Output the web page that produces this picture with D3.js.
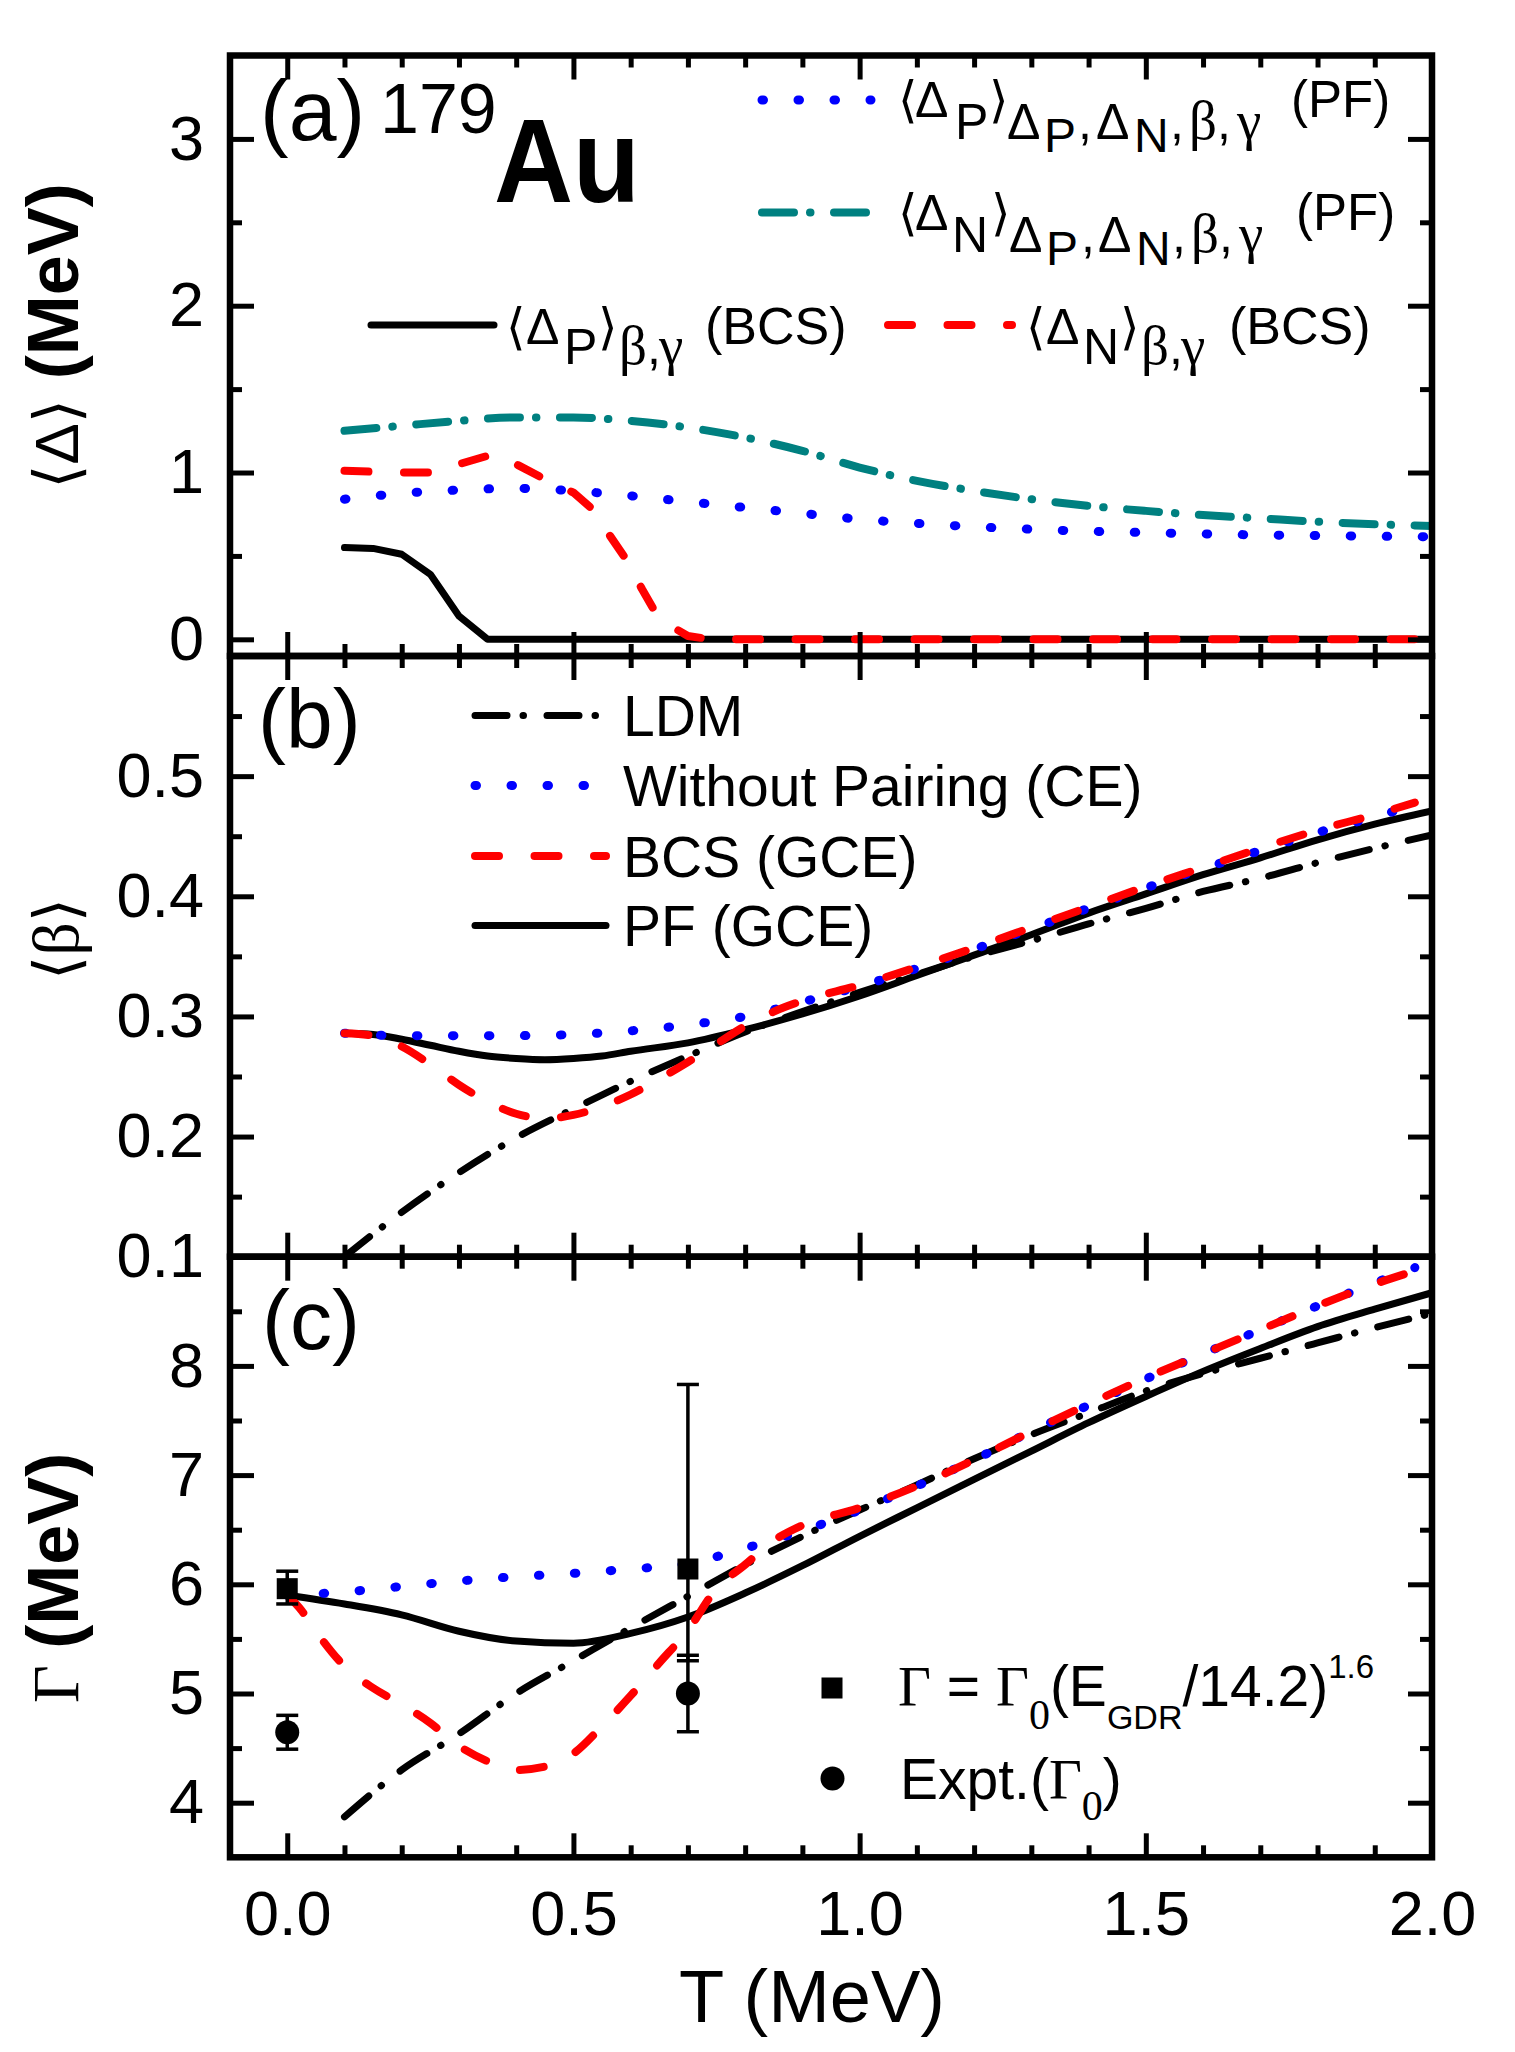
<!DOCTYPE html>
<html><head><meta charset="utf-8">
<script src="https://cdn.jsdelivr.net/npm/d3@7"></script>
<style>
body{margin:0;background:#fff}
svg{display:block}
text{font-family:"Liberation Sans",Arial,sans-serif;fill:#000}
</style></head>
<body><svg id="chart" width="1515" height="2052"></svg>
<script>
// ---------------- DATA ----------------
// Panel (a): <Delta> (MeV) vs T (MeV)
const gapPropPF = [[0.1,0.84],[0.2,0.875],[0.3,0.895],[0.4,0.905],[0.5,0.89],[0.6,0.86],[0.7,0.825],[0.8,0.79],[0.9,0.755],[1.0,0.72],[1.1,0.695],[1.2,0.675],[1.3,0.66],[1.4,0.648],[1.5,0.64],[1.6,0.632],[1.7,0.626],[1.8,0.622],[1.9,0.618],[2.0,0.615]];
const gapNeutPF = [[0.1,1.25],[0.2,1.28],[0.3,1.31],[0.4,1.33],[0.5,1.33],[0.6,1.31],[0.7,1.27],[0.8,1.21],[0.9,1.13],[1.0,1.03],[1.1,0.95],[1.2,0.89],[1.3,0.84],[1.4,0.8],[1.5,0.77],[1.6,0.745],[1.7,0.725],[1.8,0.705],[1.9,0.69],[2.0,0.68]];
const gapPropBCS = [[0.1,0.55],[0.15,0.545],[0.2,0.51],[0.25,0.39],[0.3,0.14],[0.35,0.0],[0.4,0.0],[0.6,0.0],[1.0,0.0],[1.5,0.0],[2.0,0.0]];
const gapNeutBCS = [[0.1,1.01],[0.2,1.0],[0.25,1.0],[0.3,1.05],[0.36,1.11],[0.4,1.05],[0.45,0.96],[0.5,0.88],[0.53,0.79],[0.56,0.64],[0.59,0.49],[0.62,0.3],[0.65,0.12],[0.7,0.02],[0.74,0.0],[1.0,0.0],[1.5,0.0],[2.0,0.0]];

// Panel (b): <beta> vs T
const betaLDM = [[0.1,0.1],[0.2,0.137],[0.3,0.17],[0.4,0.199],[0.5,0.223],[0.6,0.246],[0.7,0.267],[0.8,0.287],[0.9,0.304],[1.0,0.32],[1.1,0.335],[1.2,0.35],[1.3,0.363],[1.4,0.377],[1.5,0.39],[1.6,0.404],[1.7,0.415],[1.8,0.428],[1.9,0.44],[2.0,0.451]];
const betaNoPair = [[0.1,0.286],[0.2,0.284],[0.3,0.284],[0.4,0.284],[0.5,0.285],[0.6,0.288],[0.7,0.293],[0.8,0.3],[0.9,0.312],[1.0,0.325],[1.1,0.34],[1.2,0.356],[1.3,0.373],[1.4,0.39],[1.5,0.407],[1.6,0.423],[1.7,0.438],[1.8,0.453],[1.9,0.466],[1.97,0.476]];
const betaBCS = [[0.1,0.286],[0.15,0.284],[0.2,0.275],[0.25,0.26],[0.3,0.243],[0.35,0.229],[0.4,0.219],[0.45,0.215],[0.5,0.218],[0.55,0.225],[0.6,0.235],[0.65,0.248],[0.7,0.262],[0.75,0.277],[0.8,0.292],[0.85,0.304],[0.9,0.313],[1.0,0.326],[1.1,0.341],[1.2,0.357],[1.3,0.374],[1.4,0.391],[1.5,0.408],[1.6,0.424],[1.7,0.44],[1.8,0.455],[1.9,0.468],[1.97,0.478]];
const betaPF = [[0.1,0.286],[0.15,0.285],[0.2,0.281],[0.25,0.276],[0.3,0.271],[0.35,0.267],[0.4,0.265],[0.45,0.264],[0.5,0.265],[0.55,0.267],[0.6,0.271],[0.7,0.278],[0.8,0.289],[0.9,0.302],[1.0,0.317],[1.1,0.334],[1.2,0.351],[1.3,0.368],[1.4,0.386],[1.5,0.402],[1.6,0.418],[1.7,0.432],[1.8,0.447],[1.9,0.46],[2.0,0.471]];

// Panel (c): Gamma (MeV) vs T
const widthLDM = [[0.1,3.87],[0.2,4.3],[0.3,4.63],[0.4,5.0],[0.5,5.3],[0.6,5.6],[0.7,5.89],[0.8,6.18],[0.9,6.44],[1.0,6.68],[1.1,6.91],[1.2,7.15],[1.3,7.37],[1.4,7.57],[1.5,7.77],[1.6,7.93],[1.7,8.07],[1.8,8.21],[1.9,8.35],[2.0,8.48]];
const widthNoPair = [[0,5.9],[0.1,5.93],[0.2,5.98],[0.3,6.03],[0.4,6.07],[0.5,6.1],[0.6,6.14],[0.7,6.19],[0.8,6.33],[0.9,6.49],[1.0,6.68],[1.1,6.9],[1.2,7.14],[1.3,7.4],[1.4,7.64],[1.5,7.88],[1.6,8.11],[1.7,8.33],[1.8,8.55],[1.9,8.76],[1.97,8.9]];
const widthBCS = [[0,5.9],[0.025,5.76],[0.05,5.57],[0.1,5.25],[0.15,5.05],[0.2,4.9],[0.25,4.73],[0.3,4.52],[0.35,4.38],[0.4,4.3],[0.45,4.33],[0.5,4.45],[0.55,4.7],[0.6,4.98],[0.65,5.28],[0.7,5.58],[0.75,5.96],[0.8,6.18],[0.85,6.4],[0.9,6.54],[1.0,6.7],[1.1,6.9],[1.2,7.14],[1.3,7.4],[1.4,7.65],[1.5,7.89],[1.6,8.11],[1.7,8.33],[1.8,8.55],[1.9,8.75],[1.97,8.87]];
const widthPF = [[0,5.9],[0.1,5.82],[0.2,5.72],[0.3,5.57],[0.4,5.48],[0.5,5.46],[0.6,5.55],[0.7,5.7],[0.8,5.92],[0.9,6.17],[1.0,6.44],[1.1,6.7],[1.2,6.96],[1.3,7.22],[1.4,7.48],[1.5,7.72],[1.6,7.95],[1.7,8.16],[1.8,8.36],[1.9,8.52],[2.0,8.67]];
// symbols with error bars: [T, value, low, high]
const widthScaled = [[0,5.96,5.82,6.12],[0.7,6.14,5.3,7.83]];
const widthExpt = [[0,4.645,4.49,4.8],[0.7,5.0,4.65,5.35]];

// ticks
const xMajor = [0,0.5,1.0,1.5,2.0];
const xMinor = [0.1,0.2,0.3,0.4,0.6,0.7,0.8,0.9,1.1,1.2,1.3,1.4,1.6,1.7,1.8,1.9];
const aMajor = [0,1,2,3], aMinor = [0.5,1.5,2.5];
const bMajor = [0.1,0.2,0.3,0.4,0.5], bMinor = [0.15,0.25,0.35,0.45,0.55];
const cMajor = [4,5,6,7,8], cMinor = [4.5,5.5,6.5,7.5,8.5];

// ---------------- DRAW ----------------
const svg = d3.select("#chart");
const X0 = 230, X1 = 1432;
const x = d3.scaleLinear().domain([-0.1,2.0]).range([X0,X1]);
const yA = d3.scaleLinear().domain([-0.1,3.5]).range([656,55.5]);
const yB = d3.scaleLinear().domain([0.1,0.6]).range([1256.7,656]);
const yC = d3.scaleLinear().domain([3.5,9]).range([1857.3,1256.7]);

const BLUE="#0000ff", RED="#ff0000", TEAL="#008080";
const styles = {
  dot:   {color:BLUE, w:9, dash:"1.5,34.5"},
  dash:  {color:RED, w:8, dash:"24,35.5"},
  teal:  {color:TEAL, w:8, dash:"32,16,0.5,23.5"},
  ldm:   {color:"#000", w:7, dash:"32,16,0.5,23.5"},
  solid: {color:"#000", w:7, dash:null}
};
const SERIF = '"Liberation Serif","Times New Roman",serif';
const MATH = '"DejaVu Sans","Noto Sans",sans-serif';

function styleLine(sel, st){
  sel.attr("fill","none").attr("stroke",st.color).attr("stroke-width",st.w)
     .attr("stroke-linecap","round").attr("stroke-linejoin","round");
  if(st.dash) sel.attr("stroke-dasharray",st.dash);
}

function panel(id, y, top, bot){
  const g = svg.append("g");
  g.append("clipPath").attr("id","clip"+id).append("rect")
    .attr("x",X0).attr("y",top).attr("width",X1-X0).attr("height",bot-top);
  const plot = g.append("g").attr("clip-path",`url(#clip${id})`);
  return {g, plot, y};
}

function series(p, data, st, curve){
  const line = d3.line().x(d=>x(d[0])).y(d=>p.y(d[1])).curve(curve||d3.curveMonotoneX);
  styleLine(p.plot.append("path").datum(data).attr("d",line), st);
}

function axes(p, top, bot, major, minor, fmt, showX){
  const y = p.y;
  const fix = s => { s.select(".domain").remove(); s.attr("font-size",null).attr("font-family",null);
    s.selectAll("line").attr("stroke","#000").attr("stroke-width",5);
    s.selectAll("text").style("font-size","63px"); };
  p.g.append("g").attr("transform",`translate(${X0},0)`)
    .call(d3.axisLeft(y).tickValues(major).tickSize(-24).tickSizeOuter(0).tickPadding(26).tickFormat(fmt)).call(fix);
  p.g.append("g").attr("transform",`translate(${X0},0)`)
    .call(d3.axisLeft(y).tickValues(minor).tickSize(-12).tickSizeOuter(0).tickFormat("")).call(fix);
  p.g.append("g").attr("transform",`translate(${X1},0)`)
    .call(d3.axisRight(y).tickValues(major).tickSize(-24).tickSizeOuter(0).tickFormat("")).call(fix);
  p.g.append("g").attr("transform",`translate(${X1},0)`)
    .call(d3.axisRight(y).tickValues(minor).tickSize(-12).tickSizeOuter(0).tickFormat("")).call(fix);
  p.g.append("g").attr("transform",`translate(0,${top})`)
    .call(d3.axisTop(x).tickValues(xMajor).tickSize(-24).tickSizeOuter(0).tickFormat("")).call(fix);
  p.g.append("g").attr("transform",`translate(0,${top})`)
    .call(d3.axisTop(x).tickValues(xMinor).tickSize(-12).tickSizeOuter(0).tickFormat("")).call(fix);
  p.g.append("g").attr("transform",`translate(0,${bot})`)
    .call(d3.axisBottom(x).tickValues(xMajor).tickSize(-24).tickSizeOuter(0).tickPadding(33)
      .tickFormat(showX ? d3.format(".1f") : "")).call(fix);
  p.g.append("g").attr("transform",`translate(0,${bot})`)
    .call(d3.axisBottom(x).tickValues(xMinor).tickSize(-12).tickSizeOuter(0).tickFormat("")).call(fix);
  p.g.append("rect").attr("x",X0).attr("y",top).attr("width",X1-X0).attr("height",bot-top)
    .attr("fill","none").attr("stroke","#000").attr("stroke-width",6.5);
}

// multi-part text; each part may carry its own x, baseline offset, size and family
function rich(parent, x0, y0, segs, baseSize){
  const t = parent.append("text").attr("x",x0).attr("y",y0).style("font-size",baseSize+"px");
  let cur = 0;
  segs.forEach(s=>{
    const off = s.off||0;
    const ts = t.append("tspan").text(s.t).attr("dy", off-cur);
    cur = off;
    if(s.x!=null) ts.attr("x",s.x);
    if(s.size) ts.style("font-size",s.size+"px");
    if(s.fam) ts.style("font-family",s.fam);
    if(s.w) ts.style("font-weight",s.w);
  });
  return t;
}

function legendLine(g, x1, x2, yy, st){
  styleLine(g.append("line").attr("x1",x1).attr("x2",x2).attr("y1",yy).attr("y2",yy), st);
}

// ---- Panel (a)
const pa = panel("a", yA, 55.5, 656);
series(pa, gapNeutPF, styles.teal);
series(pa, gapPropPF, styles.dot);
series(pa, gapPropBCS, styles.solid, d3.curveLinear);
series(pa, gapNeutBCS, styles.dash, d3.curveLinear);
axes(pa, 55.5, 656, aMajor, aMinor, d3.format("d"), false);

rich(pa.g, 260, 140, [{t:"(a)"}], 86);
rich(pa.g, 380, 133, [{t:"179"}], 70);
pa.g.append("text").attr("x",494).attr("y",202).text("Au")
  .style("font-size","118px").style("font-weight","bold").attr("textLength",146).attr("lengthAdjust","spacingAndGlyphs");

const SUB = 22, SUB2 = 35, GR = 55;
legendLine(pa.g, 762, 871, 100, styles.dot);
rich(pa.g, 898, 117, [
  {t:"⟨",fam:MATH,x:898},{t:"Δ",x:915},{t:"P",off:SUB,x:955},{t:"⟩",off:0,fam:MATH,x:989},
  {t:"Δ",off:SUB,x:1007},{t:"P",off:SUB2,x:1044,size:48},{t:",",off:SUB,x:1078},
  {t:"Δ",off:SUB,x:1096},{t:"N",off:SUB2,x:1134,size:48},{t:",",off:SUB,x:1170},
  {t:"β",off:SUB,x:1189,fam:SERIF,size:GR},{t:",",off:SUB,x:1217},{t:"γ",off:SUB,x:1237,fam:SERIF,size:GR},
  {t:"(PF)",off:0,x:1291,size:51}], 50);
legendLine(pa.g, 762, 871, 212.5, styles.teal);
rich(pa.g, 898, 230, [
  {t:"⟨",fam:MATH,x:898},{t:"Δ",x:915},{t:"N",off:SUB,x:952},{t:"⟩",off:0,fam:MATH,x:991},
  {t:"Δ",off:SUB,x:1009},{t:"P",off:SUB2,x:1046,size:48},{t:",",off:SUB,x:1081},
  {t:"Δ",off:SUB,x:1098},{t:"N",off:SUB2,x:1136,size:48},{t:",",off:SUB,x:1172},
  {t:"β",off:SUB,x:1191,fam:SERIF,size:GR},{t:",",off:SUB,x:1219},{t:"γ",off:SUB,x:1239,fam:SERIF,size:GR},
  {t:"(PF)",off:0,x:1296,size:51}], 50);
legendLine(pa.g, 371, 494, 325, styles.solid);
rich(pa.g, 506, 344, [
  {t:"⟨",fam:MATH,x:506},{t:"Δ",x:526},{t:"P",off:20,x:564},{t:"⟩",off:0,fam:MATH,x:598},
  {t:"β",off:20,x:619,fam:SERIF,size:GR},{t:",",off:20,x:647},{t:"γ",off:20,x:659,fam:SERIF,size:GR},
  {t:"(BCS)",off:0,x:705,size:52}], 50);
legendLine(pa.g, 888, 1012, 325, styles.dash);
rich(pa.g, 1026, 344, [
  {t:"⟨",fam:MATH,x:1026},{t:"Δ",x:1046},{t:"N",off:20,x:1083},{t:"⟩",off:0,fam:MATH,x:1120},
  {t:"β",off:20,x:1141,fam:SERIF,size:GR},{t:",",off:20,x:1169},{t:"γ",off:20,x:1181,fam:SERIF,size:GR},
  {t:"(BCS)",off:0,x:1229,size:52}], 50);

// ---- Panel (b)
const pb = panel("b", yB, 656, 1256.7);
series(pb, betaLDM, styles.ldm);
series(pb, betaPF, styles.solid);
series(pb, betaNoPair, styles.dot);
series(pb, betaBCS, styles.dash);
axes(pb, 656, 1256.7, bMajor, bMinor, d3.format(".1f"), false);
rich(pb.g, 258, 748, [{t:"(b)"}], 84);
const legBLabels = ["LDM","Without Pairing (CE)","BCS (GCE)","PF (GCE)"];
const legBStyles = [styles.ldm, styles.dot, styles.dash, styles.solid];
const legBY = [736, 806, 876.5, 946];
legBLabels.forEach((lab,i)=>{
  legendLine(pb.g, 475, legBStyles[i]===styles.dot?590:606, legBY[i]-20.5, legBStyles[i]);
  rich(pb.g, 623, legBY[i], [{t:lab}], 57);
});

// ---- Panel (c)
const pc = panel("c", yC, 1256.7, 1857.3);
series(pc, widthLDM, styles.ldm);
series(pc, widthPF, styles.solid);
series(pc, widthNoPair, styles.dot);
series(pc, widthBCS, styles.dash);
axes(pc, 1256.7, 1857.3, cMajor, cMinor, d3.format("d"), true);
rich(pc.g, 262, 1349, [{t:"(c)"}], 84);

function errBars(data){
  data.forEach(d=>{
    const cx = x(d[0]);
    pc.g.append("line").attr("x1",cx).attr("x2",cx).attr("y1",yC(d[2])).attr("y2",yC(d[3]))
      .attr("stroke","#000").attr("stroke-width",3.5);
    [d[2],d[3]].forEach(v=>pc.g.append("line").attr("x1",cx-11).attr("x2",cx+11)
      .attr("y1",yC(v)).attr("y2",yC(v)).attr("stroke","#000").attr("stroke-width",3.5));
  });
}
errBars(widthScaled); errBars(widthExpt);
widthScaled.forEach(d=>pc.g.append("rect").attr("x",x(d[0])-10.5).attr("y",yC(d[1])-10.5)
  .attr("width",21).attr("height",21).attr("fill","#000"));
widthExpt.forEach(d=>pc.g.append("circle").attr("cx",x(d[0])).attr("cy",yC(d[1])).attr("r",12).attr("fill","#000"));

pc.g.append("rect").attr("x",832-10.5).attr("y",1688-10.5).attr("width",21).attr("height",21).attr("fill","#000");
pc.g.append("circle").attr("cx",832.5).attr("cy",1778.5).attr("r",12).attr("fill","#000");
rich(pc.g, 898, 1706, [
  {t:"Γ",fam:SERIF},{t:" = "},{t:"Γ",fam:SERIF},{t:"0",off:23,fam:SERIF,size:42},
  {t:"(E",off:0},{t:"GDR",off:23,size:34},{t:"/14.2)",off:0},{t:"1.6",off:-28,size:33}], 57);
rich(pc.g, 900, 1799, [
  {t:"Expt.("},{t:"Γ",fam:SERIF},{t:"0",off:21,fam:SERIF,size:42},{t:")",off:0}], 57);

// ---- Axis titles
svg.append("text").attr("x",812).attr("y",2022).attr("text-anchor","middle")
  .style("font-size","74px").text("T (MeV)");
function yTitle(cy, segs){
  const t = svg.append("text").attr("transform",`translate(78,${cy}) rotate(-90)`).attr("text-anchor","middle");
  segs.forEach(s=>{ const ts=t.append("tspan").text(s.t).style("font-size",s.size+"px");
    if(s.fam) ts.style("font-family",s.fam); if(s.w) ts.style("font-weight",s.w); });
}
yTitle(336, [{t:"⟨",size:62,fam:MATH},{t:"Δ",size:62},{t:"⟩ ",size:62,fam:MATH},{t:"(MeV)",size:72,w:"bold"}]);
yTitle(939, [{t:"⟨",size:62,fam:MATH},{t:"β",size:66,fam:SERIF},{t:"⟩",size:62,fam:MATH}]);
yTitle(1578, [{t:"Γ ",size:66,fam:SERIF},{t:"(MeV)",size:72,w:"bold"}]);
</script></body></html>
